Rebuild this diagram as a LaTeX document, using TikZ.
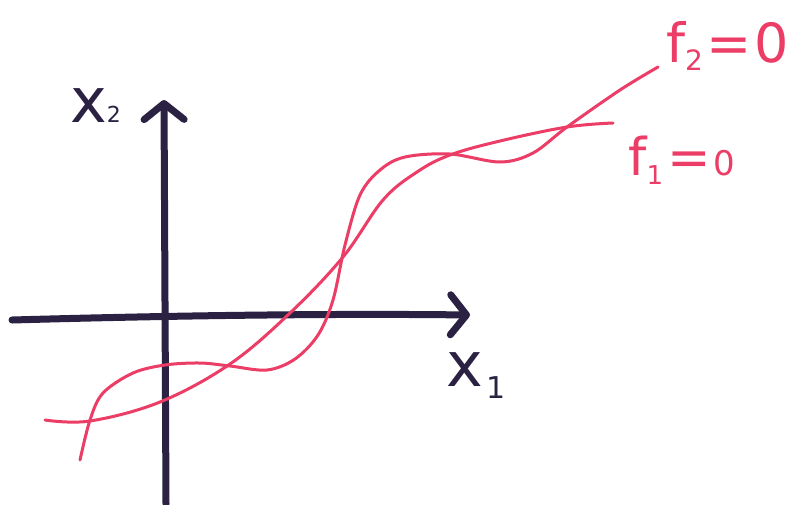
\documentclass[tikz,border=0pt]{standalone}
\usepackage{fontspec}
\setmainfont{DejaVu Sans}
\usetikzlibrary{arrows.meta}
\definecolor{ink}{HTML}{2B2142}
\definecolor{pen}{HTML}{EC3D66}
\newcommand{\lowsub}[3]{\raisebox{-#2pt}{\fontsize{#1}{#1}\selectfont #3}}
\begin{document}
\begin{tikzpicture}[x=1pt,y=-1pt,
  axis/.style={ink,line width=7pt,line cap=round,line join=round,
    -{Straight Barb[length=16pt,width=40pt,round,line width=7pt]}},
  curve/.style={pen,line width=3pt,line cap=round},
  inklabel/.style={ink,inner sep=0pt,font=\fontsize{62}{62}\selectfont},
  penlabel/.style={pen,inner sep=0pt}]
\useasboundingbox[fill=white] (0,0) rectangle (802,504);
% axes
\coordinate (xs) at (12,320);
\coordinate (xe) at (470,315);
\coordinate (ys) at (166,504);
\coordinate (ye) at (164,100);
\draw[axis] (xs) .. controls (120,317) and (300,313) .. (xe);
\draw[axis] (ys) -- (ye);
% curves
\draw[curve] plot[smooth,tension=0.6] coordinates {(45,420) (90,421) (160,402) (230,364) (290,313) (343,257) (383,200) (417,172) (450,155) (500,141) (567,127) (613,123)};
\node[penlabel,anchor=west,font=\fontsize{52}{52}\selectfont] (f1) at (628,160) {f\lowsub{26}{9}{1}\hspace{4pt}=\hspace{3pt}\fontsize{34}{34}\selectfont 0};
\draw[curve] plot[smooth,tension=0.55] coordinates {(80,460) (90,420) (103,393) (133,373) (165,365) (200,363) (230,366) (267,370) (295,359) (318,335) (333,300) (345,245) (360,195) (380,170) (405,157) (450,154) (500,162) (533,153) (567,127) (620,90) (658,67)};
\node[penlabel,anchor=west,font=\fontsize{54}{54}\selectfont] (f2) at (666,46) {f\lowsub{28}{8}{2}\hspace{3pt}=\hspace{3pt}0};
% axis labels
\node[inklabel,anchor=west] (x2) at (70,106) {x\lowsub{22}{0}{2}};
\node[inklabel,anchor=west] (x1) at (446,376) {x\hspace{4pt}\lowsub{30}{12}{1}};
\end{tikzpicture}
\end{document}
